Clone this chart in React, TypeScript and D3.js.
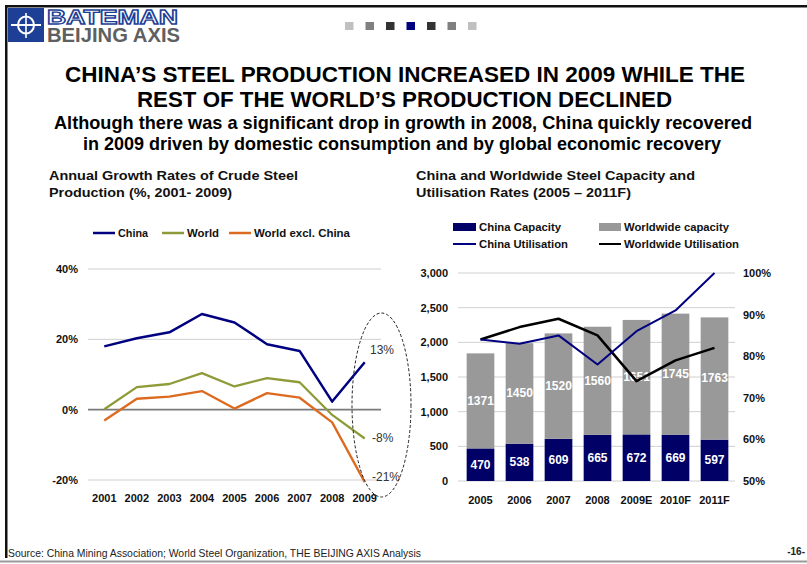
import React from 'react';
import * as d3 from 'd3';

// ---- Left chart data: annual growth of crude steel production (%)
const growthYears = ['2001', '2002', '2003', '2004', '2005', '2006', '2007', '2008', '2009'];
const chinaGrowth = [18, 20.3, 22, 27.2, 24.8, 18.6, 16.7, 2.3, 13.5];
const worldGrowth = [0.1, 6.4, 7.3, 10.4, 6.6, 9, 7.8, -1.5, -8.2];
const worldExChinaGrowth = [-3.1, 3.1, 3.7, 5.3, 0.3, 4.7, 3.4, -3.6, -20.6];
const growthTicks = [-20, 0, 20, 40];
const growthCallouts = ['13%', '-8%', '-21%'];

// ---- Right chart data: capacity (Mt) and utilisation (%)
const capYears = ['2005', '2006', '2007', '2008', '2009E', '2010F', '2011F'];
const chinaCapacity = [470, 538, 609, 665, 672, 669, 597];
const worldCapacity = [1371, 1450, 1520, 1560, 1651, 1745, 1763];
const chinaUtil = [84, 83, 85, 78, 86, 91, 100];
const worldUtil = [84, 87, 89, 85, 74, 79, 82];
const capTicks = [0, 500, 1000, 1500, 2000, 2500, 3000];
const utilTicks = [50, 60, 70, 80, 90, 100];

const FONT = 'Liberation Sans, Arial, Helvetica, sans-serif';
const NAVY = '#000080';
const BAR_NAVY = '#000066';
const OLIVE = '#8E9B38';
const ORANGE = '#DC6A1F';
const BAR_GRAY = '#999999';

const squareColors = ['#c0c0c0', '#808080', '#333333', '#000080', '#333333', '#808080', '#c0c0c0'];

export default function App() {
  // Left chart scales
  const xL = d3.scaleBand<string>().domain(growthYears).range([88, 381]);
  const yL = d3.scaleLinear().domain([-20, 40]).range([480, 269]);
  const cx = (d: string) => (xL(d) as number) + xL.bandwidth() / 2;
  const lineL = d3
    .line<number>()
    .x((_, i) => cx(growthYears[i]))
    .y((v) => yL(v));

  // Right chart scales
  const xR = d3.scaleBand<string>().domain(capYears).range([461, 734]).paddingInner(0.29).paddingOuter(0.145);
  const yR = d3.scaleLinear().domain([0, 3000]).range([481, 273]);
  const yU = d3.scaleLinear().domain([50, 100]).range([481, 273]);
  const cxR = (d: string) => (xR(d) as number) + xR.bandwidth() / 2;
  const lineU = d3
    .line<number>()
    .x((_, i) => cxR(capYears[i]))
    .y((v) => yU(v));

  const last = growthYears.length - 1;

  return (
    <svg
      width={807}
      height={564}
      style={{ position: 'absolute', left: 0, top: 0, background: '#fff' }}
      fontFamily={FONT}
    >
      <rect x={0} y={0} width={807} height={564} fill="#fff" />
      {/* Frame */}
      <rect x={5} y={5} width={802} height={2.5} fill="#111" />
      <rect x={5} y={5} width={2.5} height={553} fill="#111" />
      <rect x={0} y={560.5} width={807} height={2} fill="#9a9a9a" />

      {/* Logo */}
      <rect x={8} y={8} width={36} height={34} fill="#1d3f96" />
      <ellipse cx={26} cy={25} rx={8} ry={8.5} fill="none" stroke="#fff" strokeWidth={2} />
      <line x1={11} x2={41} y1={25} y2={25} stroke="#fff" strokeWidth={2} />
      <line x1={26} x2={26} y1={13} y2={38} stroke="#fff" strokeWidth={1.6} />
      <text
        x={47}
        y={23.5}
        fontSize={19.5}
        fontWeight="bold"
        fill="#fff"
        stroke="#1d3f96"
        strokeWidth={1.3}
        textLength={131}
        lengthAdjust="spacingAndGlyphs"
      >
        BATEMAN
      </text>
      <text x={47} y={41.5} fontSize={19.5} fontWeight="bold" fill="#5f6062" textLength={133} lengthAdjust="spacingAndGlyphs">
        BEIJING AXIS
      </text>

      {/* Decorative squares */}
      {squareColors.map((c, i) => (
        <rect key={i} x={345 + i * 20.5} y={22} width={8.5} height={8} fill={c} />
      ))}

      {/* Titles */}
      <text x={405} y={82} fontSize={22} fontWeight="bold" fill="#000" textAnchor="middle" textLength={680} lengthAdjust="spacingAndGlyphs">
        CHINA’S STEEL PRODUCTION INCREASED IN 2009 WHILE THE
      </text>
      <text x={404.5} y={107} fontSize={22} fontWeight="bold" fill="#000" textAnchor="middle" textLength={535} lengthAdjust="spacingAndGlyphs">
        REST OF THE WORLD’S PRODUCTION DECLINED
      </text>
      <text x={403} y={128.5} fontSize={17.7} fontWeight="bold" fill="#000" textAnchor="middle" textLength={698} lengthAdjust="spacingAndGlyphs">
        Although there was a significant drop in growth in 2008, China quickly recovered
      </text>
      <text x={402} y={150} fontSize={17.7} fontWeight="bold" fill="#000" textAnchor="middle" textLength={638} lengthAdjust="spacingAndGlyphs">
        in 2009 driven by domestic consumption and by global economic recovery
      </text>

      {/* Left chart title */}
      <text x={49} y={180} fontSize={13} fontWeight="bold" fill="#111" textLength={249} lengthAdjust="spacingAndGlyphs">
        Annual Growth Rates of Crude Steel
      </text>
      <text x={49} y={197} fontSize={13} fontWeight="bold" fill="#111" textLength={183} lengthAdjust="spacingAndGlyphs">
        Production (%, 2001- 2009)
      </text>

      {/* Left legend */}
      {[
        { label: 'China', color: NAVY, x: 93, w: 30 },
        { label: 'World', color: OLIVE, x: 162, w: 32 },
        { label: 'World excl. China', color: ORANGE, x: 229, w: 96 },
      ].map((l) => (
        <g key={l.label}>
          <line x1={l.x} x2={l.x + 22} y1={233} y2={233} stroke={l.color} strokeWidth={2.5} />
          <text x={l.x + 25} y={237} fontSize={11} fontWeight="bold" fill="#111" textLength={l.w} lengthAdjust="spacingAndGlyphs">
            {l.label}
          </text>
        </g>
      ))}

      {/* Left gridlines and y labels */}
      {growthTicks.map((t) => (
        <g key={t}>
          <line
            x1={88}
            x2={381}
            y1={yL(t)}
            y2={yL(t)}
            stroke={t === 0 ? '#7a7a7a' : '#cfcfcf'}
            strokeWidth={t === 0 ? 1.6 : 1}
          />
          <text x={78} y={yL(t) + 4} fontSize={11} fontWeight="bold" textAnchor="end" fill="#111">
            {t}%
          </text>
        </g>
      ))}
      {growthYears.map((y) => (
        <text key={y} x={cx(y)} y={502} fontSize={11} fontWeight="bold" textAnchor="middle" fill="#111">
          {y}
        </text>
      ))}

      {/* Left lines */}
      <path d={lineL(worldExChinaGrowth) || ''} fill="none" stroke={ORANGE} strokeWidth={2.3} strokeLinejoin="round" />
      <path d={lineL(worldGrowth) || ''} fill="none" stroke={OLIVE} strokeWidth={2.3} strokeLinejoin="round" />
      <path d={lineL(chinaGrowth) || ''} fill="none" stroke={NAVY} strokeWidth={2.5} strokeLinejoin="round" />

      {/* Callout ellipse and values */}
      <ellipse cx={381.5} cy={405} rx={29.5} ry={92} fill="none" stroke="#222" strokeWidth={1} strokeDasharray="3,2" />
      {[chinaGrowth[last], worldGrowth[last], worldExChinaGrowth[last]].map((v, i) => (
        <text
          key={i}
          x={i === 0 ? 370 : 372}
          y={i === 0 ? yL(v) - 8 : i === 1 ? yL(v) + 3 : yL(v) - 1}
          fontSize={12}
          fill="#333"
        >
          {growthCallouts[i]}
        </text>
      ))}

      {/* Right chart title */}
      <text x={416} y={180} fontSize={13} fontWeight="bold" fill="#111" textLength={279} lengthAdjust="spacingAndGlyphs">
        China and Worldwide Steel Capacity and
      </text>
      <text x={416} y={197} fontSize={13} fontWeight="bold" fill="#111" textLength={215} lengthAdjust="spacingAndGlyphs">
        Utilisation Rates (2005 – 2011F)
      </text>

      {/* Right legend */}
      <rect x={453} y={223} width={23} height={8} fill={BAR_NAVY} />
      <text x={479} y={231} fontSize={11} fontWeight="bold" fill="#111" textLength={82} lengthAdjust="spacingAndGlyphs">
        China Capacity
      </text>
      <rect x={599} y={223} width={22} height={8} fill={BAR_GRAY} />
      <text x={624} y={231} fontSize={11} fontWeight="bold" fill="#111" textLength={105} lengthAdjust="spacingAndGlyphs">
        Worldwide capacity
      </text>
      <line x1={453} x2={476} y1={244} y2={244} stroke={NAVY} strokeWidth={2} />
      <text x={479} y={248} fontSize={11} fontWeight="bold" fill="#111" textLength={89} lengthAdjust="spacingAndGlyphs">
        China Utilisation
      </text>
      <line x1={599} x2={621} y1={244} y2={244} stroke="#000" strokeWidth={2} />
      <text x={624} y={248} fontSize={11} fontWeight="bold" fill="#111" textLength={115} lengthAdjust="spacingAndGlyphs">
        Worldwide Utilisation
      </text>

      {/* Right gridlines */}
      {capTicks.map((t) => (
        <g key={t}>
          <line x1={458} x2={735} y1={yR(t)} y2={yR(t)} stroke="#d0d0d0" strokeWidth={1} />
          <text x={448} y={yR(t) + 4} fontSize={11} fontWeight="bold" textAnchor="end" fill="#111">
            {d3.format(',')(t)}
          </text>
        </g>
      ))}
      {utilTicks.map((t) => (
        <text key={t} x={743} y={yU(t) + 4} fontSize={11} fontWeight="bold" fill="#111">
          {t}%
        </text>
      ))}

      {/* Bars */}
      {capYears.map((yr, i) => {
        const x = xR(yr) as number;
        const w = xR.bandwidth();
        const c = chinaCapacity[i];
        const wc = worldCapacity[i];
        return (
          <g key={yr}>
            <rect x={x} y={yR(c)} width={w} height={yR(0) - yR(c)} fill={BAR_NAVY} />
            <rect x={x} y={yR(c + wc)} width={w} height={yR(c) - yR(c + wc)} fill={BAR_GRAY} />
            <text x={x + w / 2} y={(yR(0) + yR(c)) / 2 + 4} fontSize={12} fontWeight="bold" fill="#fff" textAnchor="middle">
              {c}
            </text>
            <text x={x + w / 2} y={(yR(c) + yR(c + wc)) / 2 + 4} fontSize={12} fontWeight="bold" fill="#fff" textAnchor="middle">
              {wc}
            </text>
          </g>
        );
      })}

      {/* Utilisation lines */}
      <path d={lineU(worldUtil) || ''} fill="none" stroke="#000" strokeWidth={2.5} strokeLinejoin="round" />
      <path d={lineU(chinaUtil) || ''} fill="none" stroke={NAVY} strokeWidth={2} strokeLinejoin="round" />

      {capYears.map((y) => (
        <text key={y} x={cxR(y)} y={504} fontSize={11} fontWeight="bold" textAnchor="middle" fill="#111">
          {y}
        </text>
      ))}

      {/* Footer */}
      <text x={8} y={557} fontSize={10.5} fill="#222" textLength={413} lengthAdjust="spacingAndGlyphs">
        Source: China Mining Association; World Steel Organization, THE BEIJING AXIS Analysis
      </text>
      <text x={805} y={555} fontSize={10} fontWeight="bold" fill="#222" textAnchor="end">
        -16-
      </text>
    </svg>
  );
}
